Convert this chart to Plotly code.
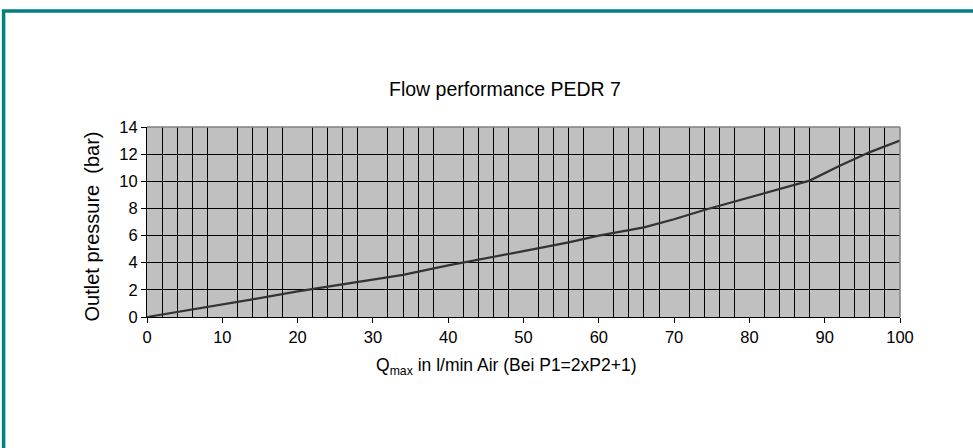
import plotly.graph_objects as go

flow = [0, 5, 10, 14, 20, 24, 30, 34, 40, 46, 50, 56, 60, 66, 70, 74, 80, 84, 88, 92, 96, 100]
pressure = [0, 0.45, 0.93, 1.3, 1.89, 2.23, 2.75, 3.1, 3.8, 4.4, 4.85, 5.5, 6.0, 6.6, 7.2, 7.88, 8.8, 9.4, 10.05, 11.15, 12.15, 13.0]

title_text = "Flow performance PEDR 7"
x_title = "Q<sub>max</sub> in l/min Air (Bei P1=2xP2+1)"
y_title = "Outlet pressure  (bar)"

FONT = "Liberation Sans, Arial, sans-serif"

fig = go.Figure()
fig.add_trace(go.Scatter(x=flow, y=pressure, mode="lines",
                         line=dict(color="#333333", width=2.2), showlegend=False))

W, H = 973, 448
# plot area in page pixels
L, R, T, B = 146.5, 900, 127, 317


def px(x):
    return (x - L) / (R - L)


def py(y):
    return (B - y) / (B - T)


fig.update_layout(
    width=W, height=H,
    margin=dict(l=L, r=W - R, t=T, b=H - B, pad=0),
    paper_bgcolor="white",
    plot_bgcolor="#C0C0C0",
    font=dict(family=FONT, size=17, color="black"),
    xaxis=dict(range=[0, 100], dtick=10, tick0=0, showgrid=False,
               minor=dict(dtick=2, tick0=0, showgrid=True, gridcolor="black", gridwidth=1, ticks=""),
               ticks="outside", ticklen=5, tickcolor="black", showline=True, linecolor="black",
               linewidth=1, zeroline=False, fixedrange=True, tickfont=dict(size=16.5)),
    yaxis=dict(range=[0, 14], dtick=2, tick0=0, showgrid=True, gridcolor="black", gridwidth=1,
               ticks="outside", ticklen=5, tickcolor="black", showline=True, linecolor="black",
               linewidth=1, zeroline=False, fixedrange=True, tickfont=dict(size=16.5)),
    annotations=[
        dict(text=title_text, xref="paper", yref="paper", x=px(505), y=py(89),
             xanchor="center", yanchor="middle", showarrow=False, font=dict(size=19.5)),
        dict(text=x_title, xref="paper", yref="paper", x=px(506), y=py(366),
             xanchor="center", yanchor="middle", showarrow=False, font=dict(size=17.5)),
        dict(text=y_title, xref="paper", yref="paper", x=px(91), y=py(227),
             xanchor="center", yanchor="middle", showarrow=False, textangle=-90,
             font=dict(size=20)),
    ],
    shapes=[
        dict(type="line", xref="paper", yref="paper", x0=0, x1=1, y0=1, y1=1,
             line=dict(color="#808080", width=1.5), layer="above"),
        dict(type="line", xref="paper", yref="paper", x0=1, x1=1, y0=0, y1=1,
             line=dict(color="#808080", width=1.5), layer="above"),
        dict(type="rect", xref="paper", yref="paper", x0=px(3), x1=px(1000), y0=py(11), y1=py(480),
             line=dict(color="#008080", width=3.5), layer="above"),
    ],
)

fig.write_html(
    "out.html",
    config={"displayModeBar": False, "staticPlot": True},
    post_script="document.body.style.margin='0';document.body.style.overflow='hidden';",
)
